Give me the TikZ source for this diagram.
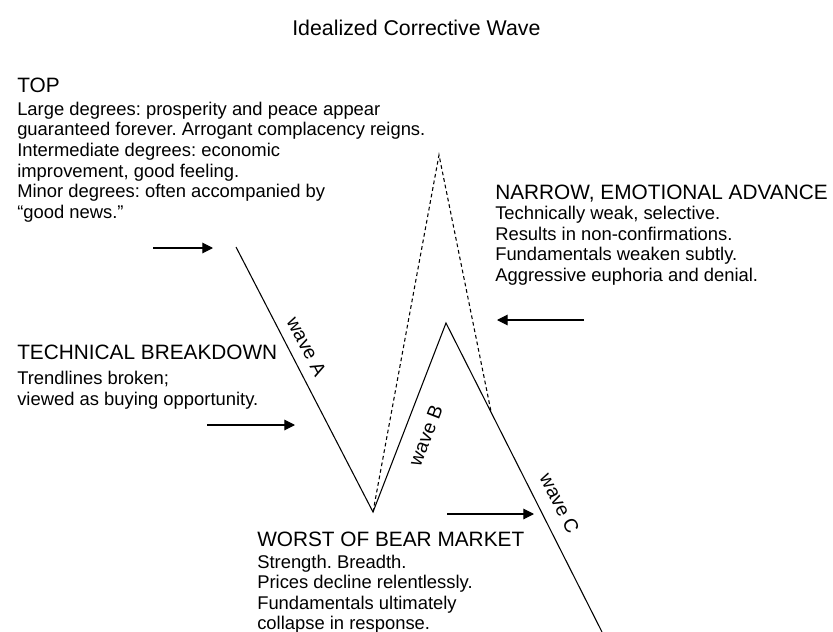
\documentclass[tikz,border=0pt]{standalone}
\usepackage{fontspec}
\setmainfont{Liberation Sans}
\usetikzlibrary{arrows.meta,calc}
\tikzset{
  ttl/.style={inner sep=0pt,anchor=base west,font=\fontsize{16}{19}\selectfont},
  hd/.style={inner sep=0pt,anchor=base west,font=\fontsize{15.6}{18}\selectfont},
  body/.style={inner sep=0pt,anchor=north west,align=left,font=\fontsize{13.8}{15.4}\selectfont},
  wlab/.style={inner sep=0pt,sloped,font=\fontsize{14.5}{17}\selectfont},
  wline/.style={line width=0.8pt},
  ghost/.style={line width=0.8pt,dash pattern=on 2.8pt off 2.2pt},
  arr/.style={line width=0.8pt,-{Triangle[length=8pt,width=8pt]}},
}
\frenchspacing

\begin{document}
\begin{tikzpicture}[x=0.75pt,y=-0.75pt]
  \useasboundingbox (0,0) rectangle (833,632);
  \node[ttl] (title) at (292,35) {Idealized Corrective Wave};
  % wave A, B, C
  \coordinate (wtop) at (236,247);
  \coordinate (wlow) at (373,512);
  \coordinate (wpeak) at (446,323);
  \coordinate (wend) at (602,632);
  \draw[wline] (wtop) -- node[wlab,pos=0.405,above=7.3pt] (labA) {wave A} (wlow)
    -- node[wlab,pos=0.447,below=10.7pt] (labB) {wave B} (wpeak)
    -- node[wlab,pos=0.614,above=9.5pt] (labC) {wave C} (wend);
  % the higher B that never came
  \coordinate (ghi) at (439,155);
  \coordinate (gjn) at ($(wpeak)!0.29!(wend)$);
  \draw[ghost] (wlow) -- (ghi) -- (gjn);
  % arrows
  \coordinate (a1) at (153,248); \coordinate (a1e) at (213,248);
  \coordinate (a2) at (584,320); \coordinate (a2e) at (497,320);
  \coordinate (a3) at (207,425); \coordinate (a3e) at (295,425);
  \coordinate (a4) at (447,514); \coordinate (a4e) at (534,514);
  \draw[arr] (a1) -- (a1e);
  \draw[arr] (a2) -- (a2e);
  \draw[arr] (a3) -- (a3e);
  \draw[arr] (a4) -- (a4e);
  % texts
  \node[hd] (tophd) at (17,92) {TOP};
  \node[body] (toptxt) at (17,101.8) {Large degrees: prosperity and peace appear\\
    guaranteed forever. Arrogant complacency reigns.\\
    Intermediate degrees: economic\\
    improvement, good feeling.\\
    Minor degrees: often accompanied by\\
    ``good news.''};
  \node[hd] (techhd) at (17,359.5) {TECHNICAL BREAKDOWN};
  \node[body] (techtxt) at (17,371.3) {Trendlines broken;\\
    viewed as buying opportunity.};
  \node[hd] (narhd) at (495,199.5) {NARROW, EMOTIONAL ADVANCE};
  \node[body] (nartxt) at (495,206.3) {Technically weak, selective.\\
    Results in non-confirmations.\\
    Fundamentals weaken subtly.\\
    Aggressive euphoria and denial.};
  \node[hd] (worsthd) at (257,546) {WORST OF BEAR MARKET};
  \node[body] (worsttxt) at (257,554.5) {Strength. Breadth.\\
    Prices decline relentlessly.\\
    Fundamentals ultimately\\
    collapse in response.};
\end{tikzpicture}
\end{document}
